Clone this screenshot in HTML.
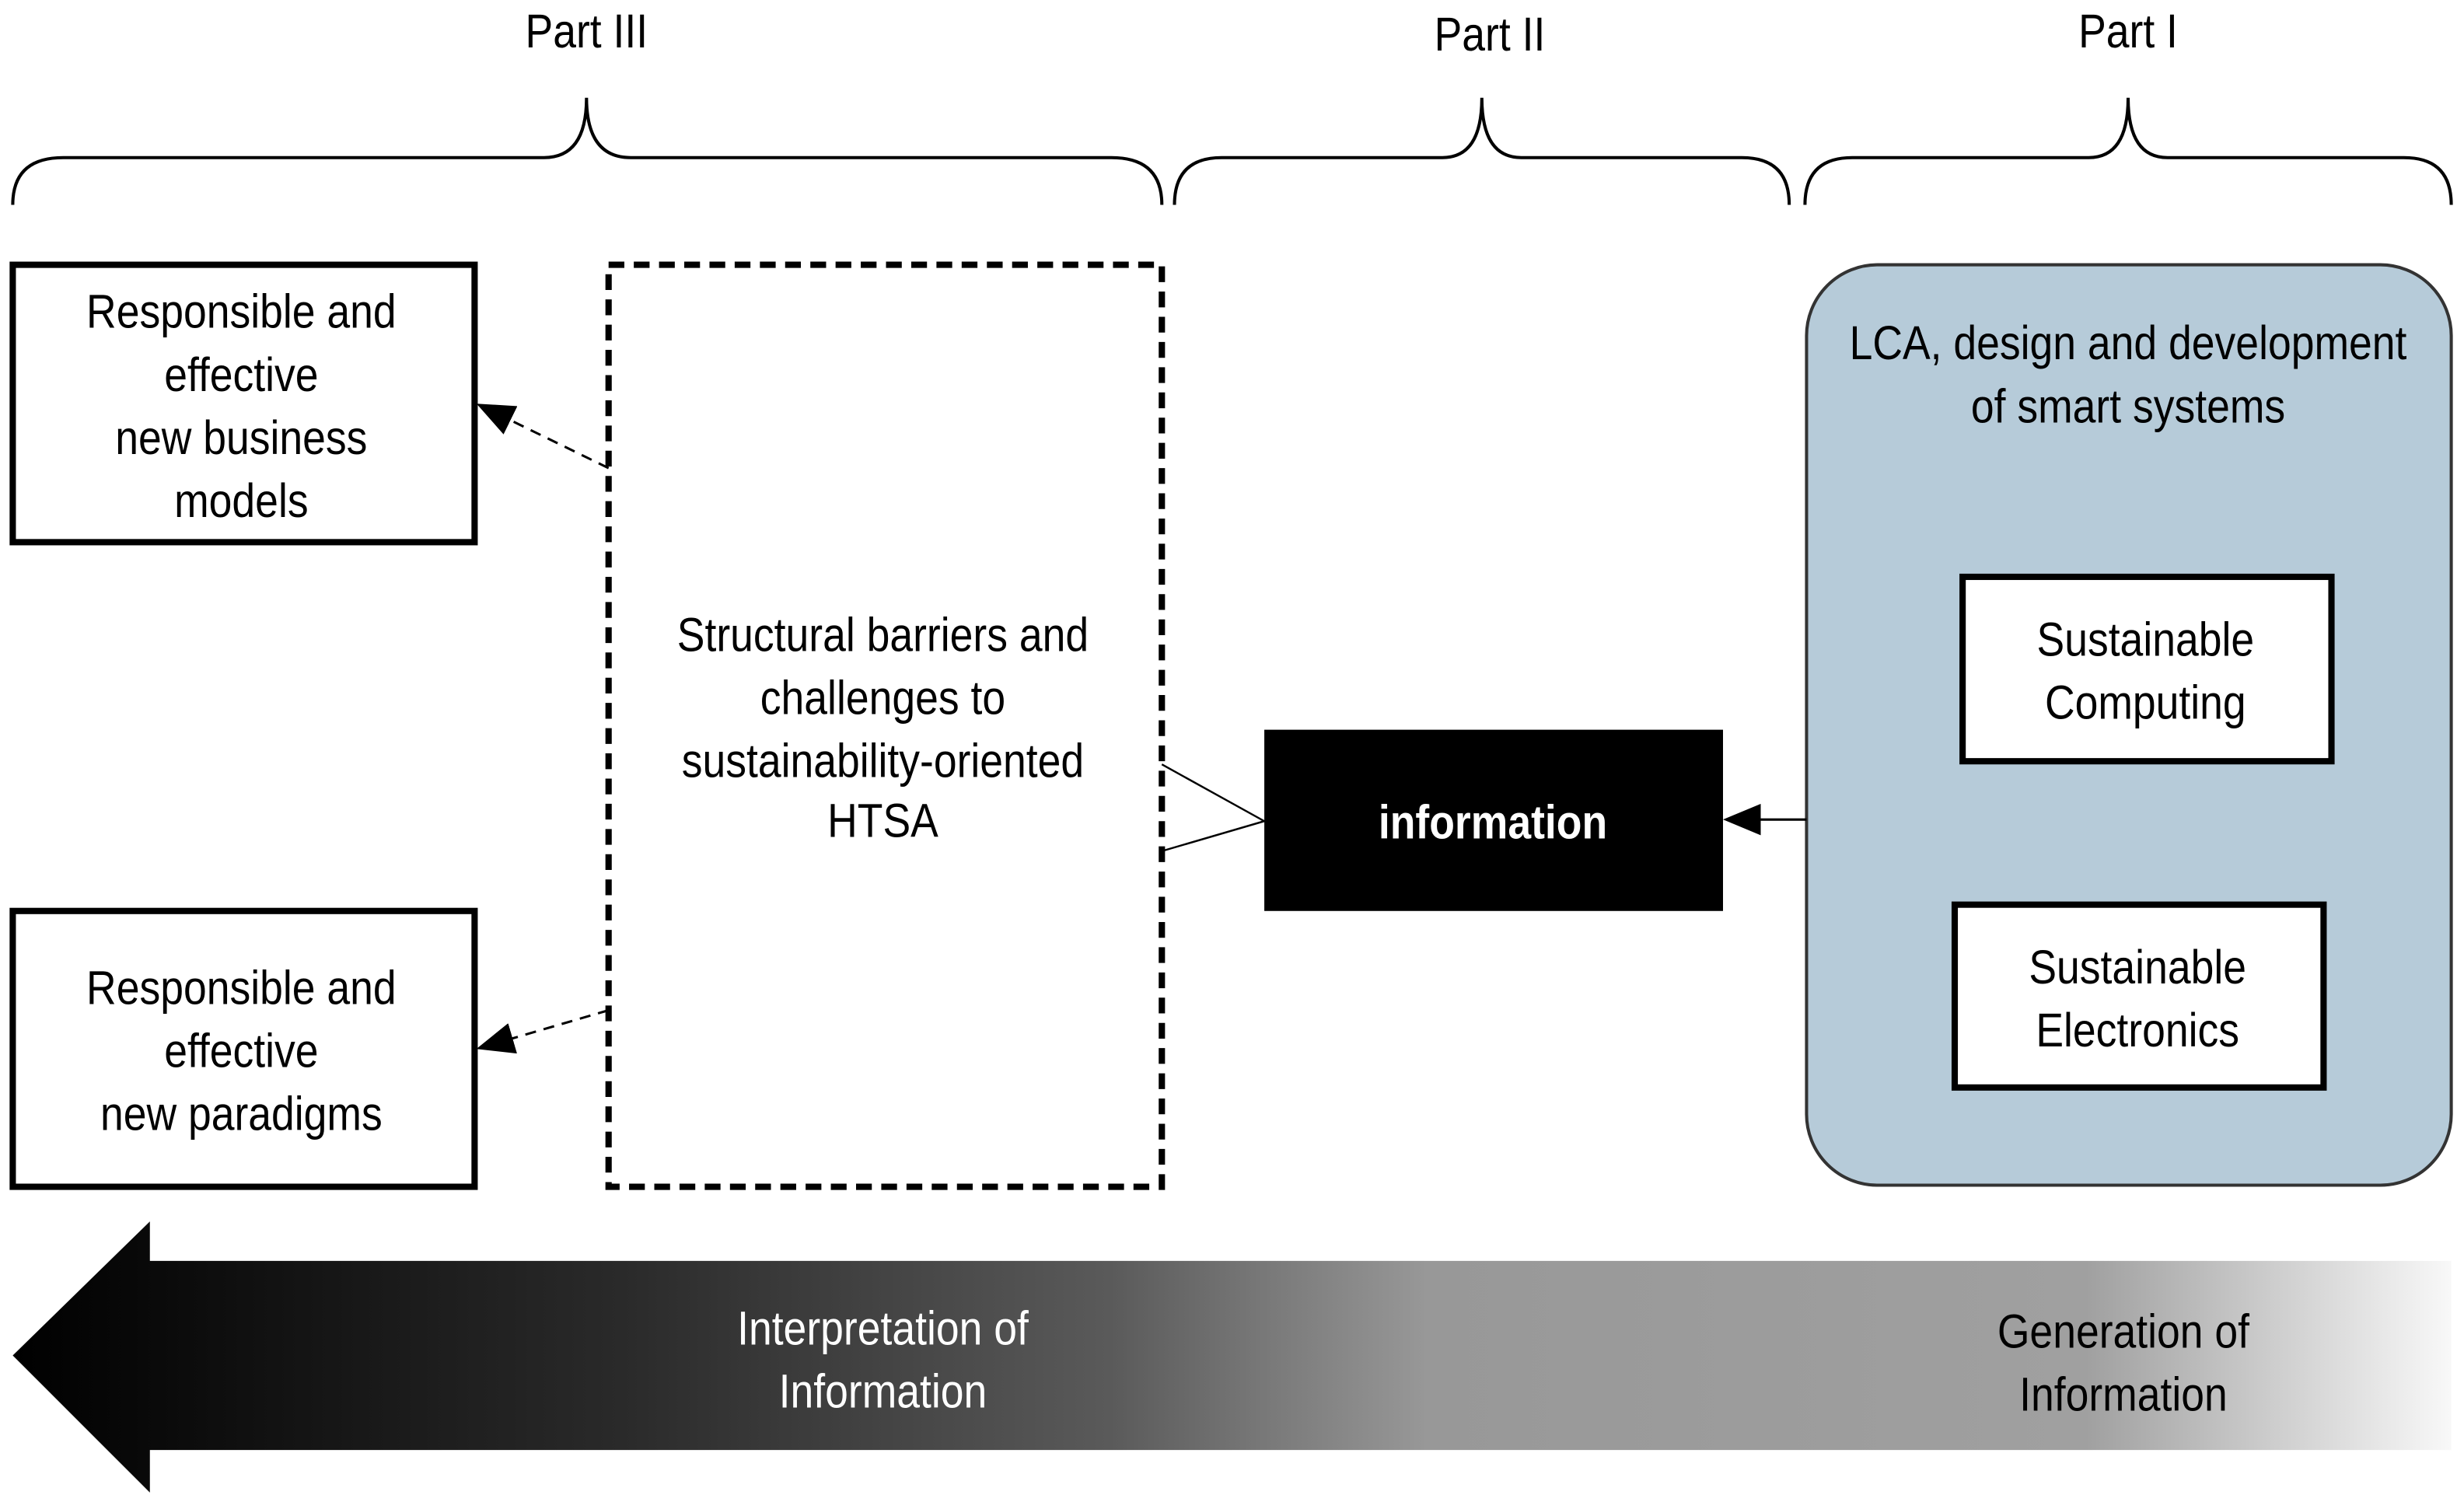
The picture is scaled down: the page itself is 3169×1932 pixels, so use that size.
<!DOCTYPE html>
<html><head><meta charset="utf-8"><style>
html,body{margin:0;padding:0;background:#fff;}
svg{display:block;}
text{font-family:"Liberation Sans",sans-serif;font-size:30px;fill:#000;text-anchor:middle;transform-box:fill-box;transform-origin:center;transform:scaleX(0.88);}
</style></head><body>
<svg width="3169" height="1932" viewBox="0 0 1563 953" xmlns="http://www.w3.org/2000/svg">
<defs>
<linearGradient id="g" x1="0" x2="1" y1="0" y2="0">
<stop offset="0" stop-color="#000"/>
<stop offset="0.25" stop-color="#2a2a2a"/>
<stop offset="0.45" stop-color="#5a5a5a"/>
<stop offset="0.58" stop-color="#989898"/>
<stop offset="0.85" stop-color="#a0a0a0"/>
<stop offset="1" stop-color="#f8f8f8"/>
</linearGradient>
<marker id="ah" markerWidth="24" markerHeight="20" refX="22" refY="10" orient="auto" markerUnits="userSpaceOnUse" viewBox="0 0 24 20">
<path d="M0,0 L24,10 L0,20 z" fill="#000"/></marker>
</defs>
<g fill="none" stroke="#000" stroke-width="2">
<path d="M8,130 Q8,100 40,100 L345,100 Q372,100 372,62 Q372,100 400,100 L705,100 Q737,100 737,130"/>
<path d="M745,130 Q745,100 775,100 L915,100 Q940,100 940,62 Q940,100 965,100 L1105,100 Q1135,100 1135,130"/>
<path d="M1145,130 Q1145,100 1175,100 L1325,100 Q1350,100 1350,62 Q1350,100 1375,100 L1525,100 Q1555,100 1555,130"/>
</g>
<text x="372" y="30">Part III</text>
<text x="945" y="32">Part II</text>
<text x="1350" y="30">Part I</text>

<rect x="8" y="168" width="293" height="176" fill="#fff" stroke="#000" stroke-width="4"/>
<text x="153" y="208">Responsible and</text><text x="153" y="248">effective</text><text x="153" y="288">new business</text><text x="153" y="328">models</text>
<rect x="8" y="578" width="293" height="175" fill="#fff" stroke="#000" stroke-width="4"/>
<text x="153" y="637">Responsible and</text><text x="153" y="677">effective</text><text x="153" y="717">new paradigms</text>

<rect x="386" y="168" width="351" height="585" fill="none" stroke="#000" stroke-width="4" stroke-dasharray="10,6"/>
<text x="560" y="413">Structural barriers and</text><text x="560" y="453">challenges to</text><text x="560" y="493">sustainability-oriented</text><text x="560" y="531">HTSA</text>

<g stroke="#000" stroke-width="1.5" stroke-dasharray="7,5" fill="none">
<line x1="386" y1="297" x2="304" y2="257" marker-end="url(#ah)"/>
<line x1="386" y1="641" x2="304" y2="665" marker-end="url(#ah)"/>
</g>
<path d="M737,485 L802,521 L737,540" fill="none" stroke="#000" stroke-width="1.2"/>

<rect x="802" y="463" width="291" height="115" fill="#000"/>
<text x="947" y="532" style="fill:#fff;font-weight:bold">information</text>

<rect x="1146" y="168" width="409" height="584" rx="45" fill="#b6cbd9" stroke="#333" stroke-width="2"/>
<line x1="1146" y1="520" x2="1095" y2="520" stroke="#000" stroke-width="1.5" marker-end="url(#ah)"/>
<text x="1350" y="228">LCA, design and development</text><text x="1350" y="268">of smart systems</text>
<rect x="1245" y="366" width="234" height="117" fill="#fff" stroke="#000" stroke-width="4"/>
<text x="1361" y="416">Sustainable</text><text x="1361" y="456">Computing</text>
<rect x="1240" y="574" width="234" height="116" fill="#fff" stroke="#000" stroke-width="4"/>
<text x="1356" y="624">Sustainable</text><text x="1356" y="664">Electronics</text>

<path d="M8,860 L95,775 L95,800 L1555,800 L1555,920 L95,920 L95,947 Z" fill="url(#g)"/>
<text x="560" y="853" style="fill:#fff">Interpretation of</text><text x="560" y="893" style="fill:#fff">Information</text>
<text x="1347" y="855">Generation of</text><text x="1347" y="895">Information</text>
</svg>
</body></html>
